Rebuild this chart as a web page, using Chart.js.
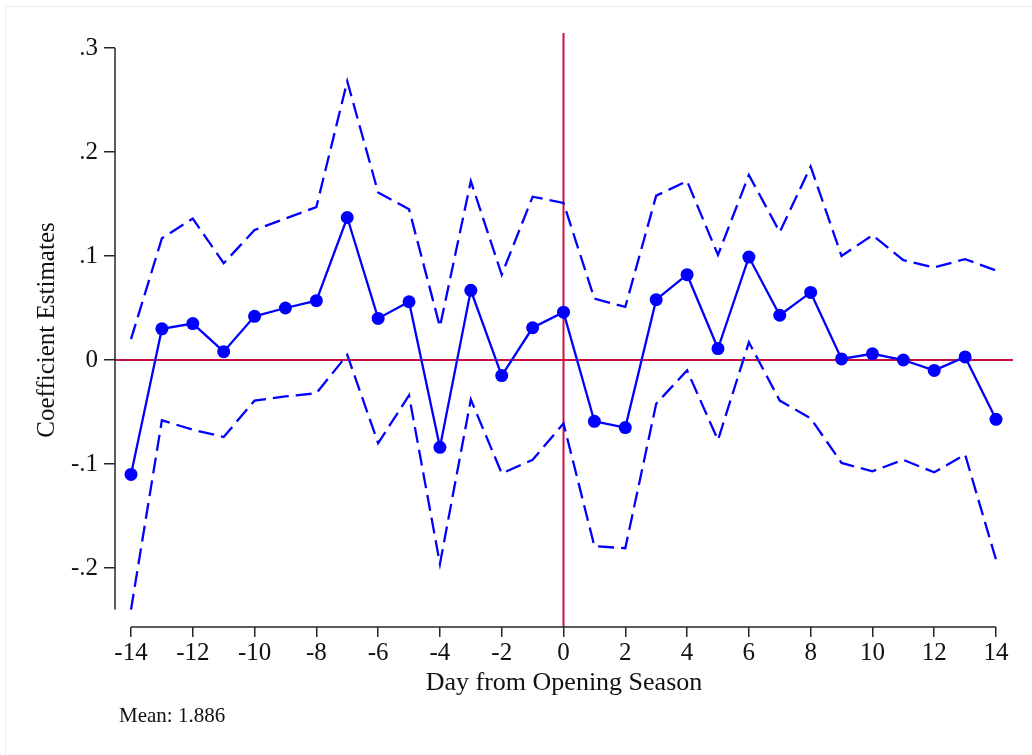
<!DOCTYPE html>
<html>
<head>
<meta charset="utf-8">
<script src="https://cdn.jsdelivr.net/npm/chart.js@4.4.1/dist/chart.umd.min.js"></script>
<style>
  html, body { margin: 0; padding: 0; background: #ffffff; }
  #wrap { width: 1032px; height: 755px; position: relative; }
</style>
</head>
<body>
<div id="wrap"><canvas id="c" width="1032" height="755"></canvas></div>
<script>
// Event-study estimates by day relative to the season opening
const days = [-14, -13, -12, -11, -10, -9, -8, -7, -6, -5, -4, -3, -2, -1, 0,
              1, 2, 3, 4, 5, 6, 7, 8, 9, 10, 11, 12, 13, 14];
const coef = [-0.110, 0.030, 0.035, 0.008, 0.042, 0.050, 0.057, 0.137, 0.040, 0.056,
              -0.084, 0.067, -0.015, 0.031, 0.046, -0.059, -0.065, 0.058, 0.082, 0.011,
              0.099, 0.043, 0.065, 0.001, 0.006, 0.000, -0.010, 0.003, -0.057];
const upperCI = [0.020, 0.117, 0.136, 0.093, 0.125, 0.136, 0.147, 0.268, 0.161, 0.145,
                 0.032, 0.172, 0.082, 0.157, 0.151, 0.059, 0.051, 0.158, 0.172, 0.101,
                 0.178, 0.123, 0.186, 0.100, 0.120, 0.096, 0.089, 0.097, 0.086];
const lowerCI = [-0.240, -0.058, -0.067, -0.074, -0.039, -0.035, -0.032, 0.005, -0.080, -0.034,
                 -0.196, -0.038, -0.109, -0.096, -0.061, -0.179, -0.181, -0.042, -0.010, -0.077,
                 0.017, -0.039, -0.056, -0.099, -0.107, -0.096, -0.108, -0.091, -0.192];
const xTickValues = [-14, -12, -10, -8, -6, -4, -2, 0, 2, 4, 6, 8, 10, 12, 14];
const yTickValues = [-0.2, -0.1, 0, 0.1, 0.2, 0.3];
const yTickLabels = ['-.2', '-.1', '0', '.1', '.2', '.3'];
const xTitle = 'Day from Opening Season';
const yTitle = 'Coefficient Estimates';
const noteText = 'Mean: 1.886';

const SERIF = '"Liberation Serif", "Times New Roman", serif';
const BLUE = '#0000ff';
const REF_RED = '#c90f3e';
const AXIS = '#262626';

const toXY = (ys) => days.map((d, i) => ({ x: d, y: ys[i] }));

// Axis lines span only the tick/data range; reference lines at zero
const frame = {
  id: 'frame',
  beforeDraw(chart) {
    const ctx = chart.ctx;
    ctx.save();
    ctx.strokeStyle = '#e6eef2';
    ctx.lineWidth = 1;
    ctx.beginPath();
    ctx.moveTo(5.5, 760);
    ctx.lineTo(5.5, 6.5);
    ctx.lineTo(1040, 6.5);
    ctx.stroke();
    ctx.restore();
  },
  beforeDatasetsDraw(chart) {
    const { ctx, chartArea, scales: { x, y } } = chart;
    ctx.save();
    ctx.strokeStyle = REF_RED;
    ctx.lineWidth = 2;
    const y0 = y.getPixelForValue(0);
    ctx.beginPath();
    ctx.moveTo(chartArea.left, y0);
    ctx.lineTo(chartArea.right, y0);
    ctx.stroke();
    const x0 = x.getPixelForValue(0);
    ctx.beginPath();
    ctx.moveTo(x0, chartArea.top);
    ctx.lineTo(x0, chartArea.bottom);
    ctx.stroke();

    ctx.strokeStyle = AXIS;
    ctx.lineWidth = 1.5;
    const yLo = Math.min(...lowerCI, ...yTickValues);
    const yHi = Math.max(...upperCI, ...yTickValues);
    ctx.beginPath();
    ctx.moveTo(chartArea.left, y.getPixelForValue(yHi));
    ctx.lineTo(chartArea.left, y.getPixelForValue(yLo));
    ctx.stroke();
    ctx.beginPath();
    ctx.moveTo(x.getPixelForValue(xTickValues[0]), chartArea.bottom);
    ctx.lineTo(x.getPixelForValue(xTickValues[xTickValues.length - 1]), chartArea.bottom);
    ctx.stroke();
    ctx.restore();
  },
  afterDraw(chart) {
    const ctx = chart.ctx;
    ctx.save();
    ctx.fillStyle = '#111111';
    ctx.font = '21px ' + SERIF;
    ctx.textBaseline = 'alphabetic';
    ctx.textAlign = 'left';
    ctx.fillText(noteText, 119, 722);
    ctx.restore();
  }
};

new Chart(document.getElementById('c'), {
  type: 'line',
  data: {
    datasets: [
      {
        label: 'Upper bound',
        data: toXY(upperCI),
        borderColor: BLUE,
        borderWidth: 2.3,
        borderDash: [16, 7],
        pointRadius: 0,
        fill: false,
        tension: 0
      },
      {
        label: 'Lower bound',
        data: toXY(lowerCI),
        borderColor: BLUE,
        borderWidth: 2.3,
        borderDash: [16, 7],
        pointRadius: 0,
        fill: false,
        tension: 0
      },
      {
        label: 'Coefficient',
        data: toXY(coef),
        borderColor: BLUE,
        borderWidth: 2.3,
        pointRadius: 6.5,
        pointBackgroundColor: BLUE,
        pointBorderWidth: 0,
        fill: false,
        tension: 0
      }
    ]
  },
  options: {
    responsive: false,
    animation: false,
    devicePixelRatio: 1,
    layout: { padding: { top: 33, right: 19, left: 0, bottom: 0 } },
    plugins: {
      legend: { display: false },
      tooltip: { enabled: false }
    },
    scales: {
      x: {
        type: 'linear',
        min: -14.518,
        max: 14.550,
        afterFit(scale) { scale.height = 128; },
        afterBuildTicks(scale) { scale.ticks = xTickValues.map(v => ({ value: v })); },
        border: { display: false },
        grid: {
          drawOnChartArea: false,
          drawTicks: true,
          tickLength: 10,
          color: AXIS,
          lineWidth: 1.5
        },
        ticks: {
          color: '#111111',
          padding: 1,
          maxRotation: 0,
          font: { family: SERIF, size: 25 },
          callback: (v) => String(v)
        },
        title: {
          display: true,
          text: xTitle,
          color: '#111111',
          font: { family: SERIF, size: 26 },
          padding: { top: 0, bottom: 56 }
        }
      },
      y: {
        type: 'linear',
        min: -0.25673,
        max: 0.31442,
        afterFit(scale) { scale.width = 115; },
        afterBuildTicks(scale) { scale.ticks = yTickValues.map(v => ({ value: v })); },
        border: { display: false },
        grid: {
          drawOnChartArea: false,
          drawTicks: true,
          tickLength: 11,
          color: AXIS,
          lineWidth: 1.5
        },
        ticks: {
          color: '#111111',
          padding: 6,
          font: { family: SERIF, size: 25 },
          callback: (v, i) => yTickLabels[i]
        },
        title: {
          display: true,
          text: yTitle,
          color: '#111111',
          font: { family: SERIF, size: 25 },
          padding: { top: 32, bottom: 0 }
        }
      }
    }
  },
  plugins: [frame]
});
</script>
</body>
</html>
